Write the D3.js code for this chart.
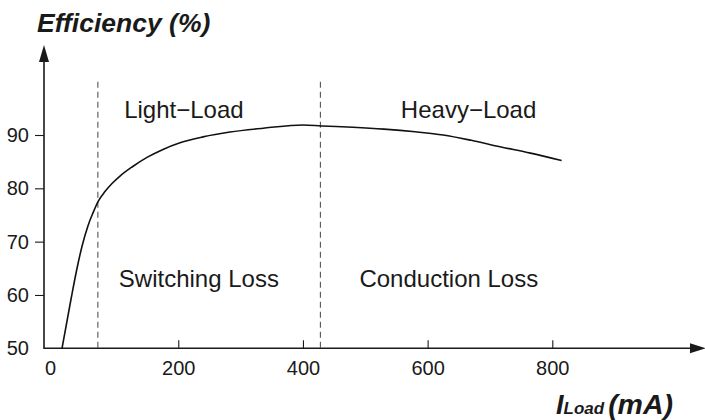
<!DOCTYPE html>
<html>
<head>
<meta charset="utf-8">
<script src="https://cdn.jsdelivr.net/npm/d3@7"></script>
<style>
  body { margin: 0; background: #fff; }
  svg { display: block; }
  text { font-family: "Liberation Sans", Arial, Helvetica, sans-serif; fill: #1a1a1a; }
</style>
</head>
<body>
<svg id="chart" width="705" height="420"></svg>
<script>
// Load current (mA) and converter efficiency (%)
const loadCurrent = [13.5, 27.9, 37.5, 45.5, 55.2, 63.2, 71.7, 82.4, 93.7, 106.5, 125.8, 149.8, 175.5, 202.8, 239.6, 283, 339, 400, 430, 480, 530, 580, 625, 670, 716, 765, 815];
const efficiency  = [50, 59.2, 64.96, 69.1, 73.0, 75.4, 77.6, 79.4, 80.9, 82.3, 84.0, 85.8, 87.3, 88.55, 89.65, 90.56, 91.3, 91.88, 91.7, 91.45, 91.1, 90.6, 90.0, 89.0, 87.8, 86.6, 85.2];

const xTicks = [0, 200, 400, 600, 800];
const yTicks = [50, 60, 70, 80, 90];

// Boundaries between operating regions (mA)
const regionBounds = [71, 428];
const regionNames = ["Light\u2212Load", "Heavy\u2212Load", "Switching Loss", "Conduction Loss"];

const svg = d3.select("#chart");
const x = d3.scaleLinear().domain([0, 800]).range([53.6, 552.3]);
const y = d3.scaleLinear().domain([50, 90]).range([348.3, 135]);

const axisX0 = 44;            // y axis position
const axisY0 = y(50);         // x axis position
const ink = "#1a1a1a";

// Region boundaries
svg.append("g").selectAll("line")
  .data(regionBounds)
  .join("line")
  .attr("x1", d => x(d)).attr("x2", d => x(d))
  .attr("y1", y(100)).attr("y2", axisY0)
  .attr("stroke", "#555").attr("stroke-width", 1.1)
  .attr("stroke-dasharray", "6,4");

// Y axis
const yAxis = svg.append("g")
  .attr("transform", `translate(${axisX0},0)`)
  .call(d3.axisLeft(y).tickValues(yTicks).tickSize(9).tickPadding(6));
yAxis.select(".domain").remove();
yAxis.selectAll(".tick line").attr("stroke", ink).attr("stroke-width", 1.1)
  .filter(d => d === 50).remove();
yAxis.selectAll(".tick text").attr("font-size", 20).attr("fill", ink)
  .style("font-family", "'Liberation Sans', Arial, sans-serif");

// X axis
const xAxis = svg.append("g")
  .attr("transform", `translate(0,${axisY0})`)
  .call(d3.axisBottom(x).tickValues(xTicks).tickSizeInner(-8).tickSizeOuter(0).tickPadding(13));
xAxis.select(".domain").remove();
xAxis.selectAll(".tick line").attr("stroke", ink).attr("stroke-width", 1.1)
  .filter(d => d === 0).remove();
xAxis.selectAll(".tick text").attr("font-size", 20).attr("fill", ink)
  .style("font-family", "'Liberation Sans', Arial, sans-serif");
xAxis.selectAll(".tick text").filter(d => d === 0).attr("dx", -3.5);

// Axis lines with arrowheads
const yTop = 45, xRight = 706;
svg.append("line")
  .attr("x1", axisX0).attr("x2", axisX0)
  .attr("y1", axisY0 + 0.7).attr("y2", yTop + 10)
  .attr("stroke", ink).attr("stroke-width", 1.6);
svg.append("path")
  .attr("d", `M${axisX0},${yTop} L${axisX0 - 5},${yTop + 17} L${axisX0 + 5},${yTop + 17} Z`)
  .attr("fill", ink);
svg.append("line")
  .attr("x1", axisX0).attr("x2", xRight - 10)
  .attr("y1", axisY0).attr("y2", axisY0)
  .attr("stroke", ink).attr("stroke-width", 1.6);
svg.append("path")
  .attr("d", `M${xRight},${axisY0} L${xRight - 16},${axisY0 - 5} L${xRight - 16},${axisY0 + 5} Z`)
  .attr("fill", ink);

// Efficiency curve
const line = d3.line()
  .x(d => x(d[0]))
  .y(d => y(d[1]))
  .curve(d3.curveMonotoneX);
svg.append("path")
  .datum(d3.zip(loadCurrent, efficiency))
  .attr("d", line)
  .attr("fill", "none")
  .attr("stroke", "#111")
  .attr("stroke-width", 1.6);

// Region annotations (positions in data units)
const regionPos = [[209, 93.1], [665.7, 93.1], [233, 61.55], [634, 61.55]];
svg.append("g").selectAll("text")
  .data(regionNames)
  .join("text")
  .attr("x", (d, i) => x(regionPos[i][0]))
  .attr("y", (d, i) => y(regionPos[i][1]))
  .attr("text-anchor", "middle")
  .attr("font-size", 24)
  .text(d => d);

// Axis titles
svg.append("text")
  .attr("x", 37).attr("y", 31.7)
  .attr("font-size", 26.5)
  .attr("font-weight", "bold")
  .attr("font-style", "italic")
  .text("Efficiency (%)");

const xTitle = svg.append("text")
  .attr("x", 556).attr("y", 414)
  .attr("font-weight", "bold")
  .attr("font-style", "italic");
xTitle.append("tspan").attr("font-size", 27).text("I");
xTitle.append("tspan").attr("font-size", 17).text("Load");
xTitle.append("tspan").attr("font-size", 28.5).attr("dx", 4).text("(mA)");
</script>
</body>
</html>
